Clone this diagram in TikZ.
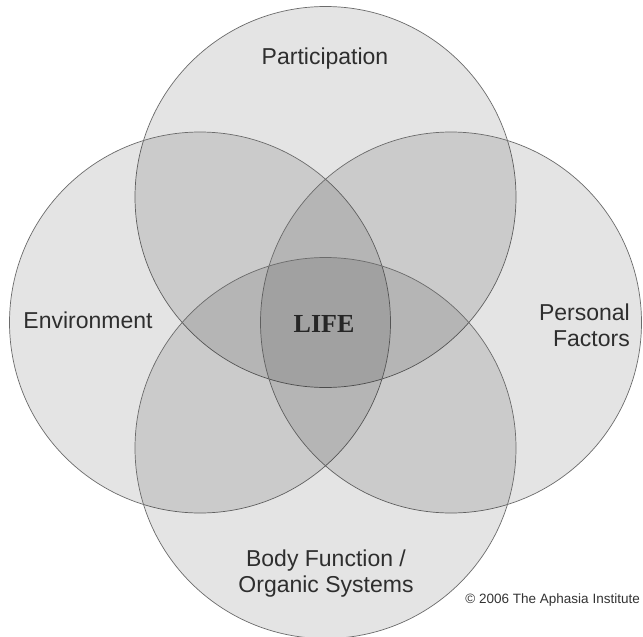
\documentclass[tikz,border=0pt]{standalone}
\usepackage{fontspec}
\setmainfont{Liberation Sans}
\newfontfamily\lifefont{Liberation Serif}
\begin{document}
\begin{tikzpicture}[x=1pt,y=-1pt,
  ring/.style={circle, minimum size=381pt, inner sep=0pt,
    draw=black!58, line width=0.7pt, fill=black, fill opacity=0.105, draw opacity=1},
  label/.style={text=black!82, font=\fontsize{23}{26}\selectfont, align=center, inner sep=0pt},
  lifelabel/.style={text=black!85, font=\lifefont\bfseries\fontsize{26}{28}\selectfont, inner sep=0pt},
  credit/.style={text=black!80, font=\fontsize{13.5}{15}\selectfont, inner sep=0pt}]
  \useasboundingbox (0,0) rectangle (643,637);
  \fill[white] (0,0) rectangle (643,637);
  % the four overlapping domains
  \node[ring] (participation) at (325.5,197) {};
  \node[ring] (environment)   at (200,322.5) {};
  \node[ring] (personal)      at (451,322.5) {};
  \node[ring] (body)          at (325.5,448) {};
  % labels
  \node[label] (tpart) at (325,59) {Participation};
  \node[label] (tenv)  at (88,320) {Environment};
  \node[label, align=right, anchor=east] (tpers) at (630,325) {Personal\\Factors};
  \node[label] (tbody) at (326,574) {Body Function /\\Organic Systems};
  \node[lifelabel] (tlife) at (324,324) {LIFE};
  \node[credit, anchor=east] (tcred) at (640,600) {\textcopyright{} 2006 The Aphasia Institute};
\end{tikzpicture}
\end{document}
